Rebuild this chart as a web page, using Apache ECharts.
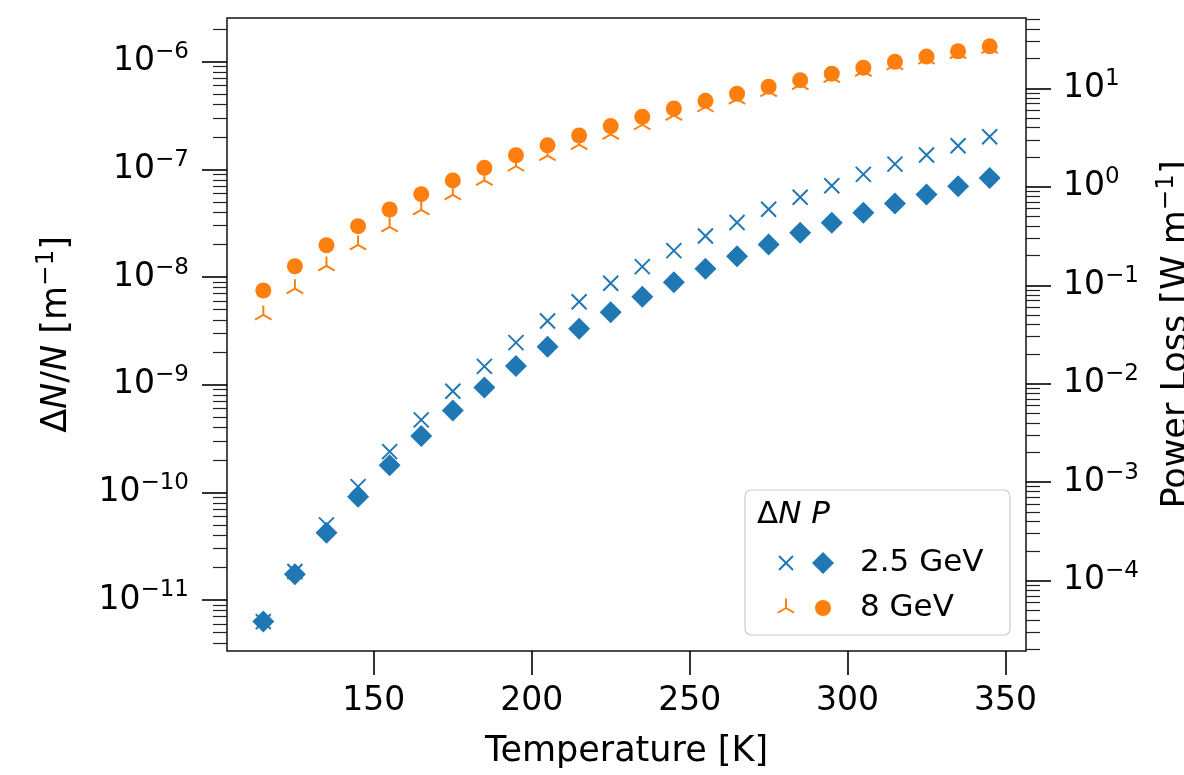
<!DOCTYPE html>
<html><head><meta charset="utf-8">
<script src="https://cdn.jsdelivr.net/npm/echarts@6/dist/echarts.min.js"></script>
<style>html,body{margin:0;padding:0;background:#fff}#chart{width:1184px;height:775px}</style>
</head><body><div id="chart"></div>
<script>
// ---- data ----
const temperatures = [115,125,135,145,155,165,175,185,195,205,215,225,235,245,255,265,275,285,295,305,315,325,335,345];
const dnN_2p5GeV = [6.3e-12,1.84e-11,4.99e-11,1.13e-10,2.39e-10,4.71e-10,8.7e-10,1.48e-9,2.46e-9,3.91e-9,5.9e-9,8.75e-9,1.25e-8,1.76e-8,2.41e-8,3.21e-8,4.26e-8,5.51e-8,7.06e-8,9.0e-8,1.12e-7,1.36e-7,1.66e-7,2.01e-7];
const power_2p5GeV = [3.84e-5,1.16e-4,3.07e-4,7.12e-4,1.49e-3,2.94e-3,5.36e-3,9.17e-3,0.0151,0.0238,0.0362,0.0533,0.0764,0.107,0.147,0.197,0.260,0.341,0.431,0.545,0.677,0.835,1.01,1.23];
const dnN_8GeV = [4.45e-9,7.8e-9,1.27e-8,1.99e-8,2.93e-8,4.2e-8,5.8e-8,7.9e-8,1.07e-7,1.34e-7,1.7e-7,2.12e-7,2.6e-7,3.17e-7,3.8e-7,4.5e-7,5.28e-7,6.14e-7,7.12e-7,8.13e-7,9.35e-7,1.06e-6,1.19e-6,1.33e-6];
const power_8GeV = [0.0885,0.156,0.255,0.398,0.588,0.841,1.16,1.56,2.09,2.64,3.32,4.14,5.14,6.24,7.47,8.81,10.4,12.1,14.1,16.2,18.6,21.0,23.8,26.7];
const xTicks = [150,200,250,300,350];
const leftMajorTicks = [1e-11,1e-10,1e-9,1e-8,1e-7,1e-6];
const rightMajorTicks = [1e-4,1e-3,1e-2,1e-1,1e0,1e1];
const legendLabels = ['2.5 GeV','8 GeV'];

// ---- helpers ----
function minorTicks(lo, hi) {
  const out = [];
  for (let k = Math.floor(Math.log10(lo)); k <= Math.ceil(Math.log10(hi)); k++) {
    for (let m = 2; m <= 9; m++) {
      const v = m * Math.pow(10, k);
      if (v >= lo && v <= hi) out.push(v);
    }
  }
  return out;
}
const FONT = 'DejaVu Sans';
const BLUE = '#1f77b4', ORANGE = '#ff7f0e';
const X_MIN = 103.5, X_MAX = 356.5;
const L_MIN = 3.36e-12, L_MAX = 2.55e-6;
const R_MIN = 1.93e-5, R_MAX = 51.8;

function powLabel(v) {
  const e = Math.round(Math.log10(v));
  return '{b|10}{s|' + (e < 0 ? '\u2212' + (-e) : String(e)) + '}';
}
const powRich = {
  b: {fontFamily: FONT, fontSize: 33, color: '#000'},
  s: {fontFamily: FONT, fontSize: 23, color: '#000', padding: [0, 0, 19, 0]}
};
const nameRich = {
  t: {fontFamily: FONT, fontSize: 35, color: '#000'},
  i: {fontFamily: FONT, fontSize: 35, color: '#000', fontStyle: 'italic'},
  s: {fontFamily: FONT, fontSize: 24.5, color: '#000', padding: [0, 0, 20, 0]}
};
const legendRich = {
  t: {fontFamily: FONT, fontSize: 31, color: '#000'},
  i: {fontFamily: FONT, fontSize: 31, color: '#000', fontStyle: 'italic'}
};
const majorTickStyle = {color: '#000', width: 1.6};
const minorTickStyle = {color: '#222', width: 1.2};

const crossPath = 'path://M-1,-1L1,1M1,-1L-1,1';
const triPath = 'path://M-1,-1M1,1M0,0L0,-1M0,0L-0.866,0.5M0,0L0.866,0.5';

function zip(xs, ys) { return xs.map((x, i) => [x, ys[i]]); }

const chart = echarts.init(document.getElementById('chart'), null, {renderer: 'canvas'});

// legend pieces (layout only)
const LG = {x: 745, y: 490, w: 265, h: 145};
const row1 = 563, row2 = 608, mx1 = 786, mx2 = 823, tx = 860;
const lineSt = c => ({stroke: c, lineWidth: 2});
const legendGraphic = [
  {type: 'rect', z: 100, shape: {x: LG.x, y: LG.y, width: LG.w, height: LG.h, r: 6},
   style: {fill: 'rgba(255,255,255,0.8)', stroke: '#cccccc', lineWidth: 1.2}},
  {type: 'text', z: 101, x: 757, y: 515, style: {
    text: '{t|\u0394}{i|N}{t| }{i|P}', verticalAlign: 'middle', rich: legendRich}},
  // cross
  {type: 'line', z: 101, shape: {x1: mx1 - 7, y1: row1 - 7, x2: mx1 + 7, y2: row1 + 7}, style: lineSt(BLUE)},
  {type: 'line', z: 101, shape: {x1: mx1 + 7, y1: row1 - 7, x2: mx1 - 7, y2: row1 + 7}, style: lineSt(BLUE)},
  {type: 'polygon', z: 101, shape: {points: [[mx2, row1 - 11], [mx2 + 11, row1], [mx2, row1 + 11], [mx2 - 11, row1]]},
   style: {fill: BLUE}},
  // tri
  {type: 'line', z: 101, shape: {x1: mx1, y1: row2, x2: mx1, y2: row2 - 9.5}, style: lineSt(ORANGE)},
  {type: 'line', z: 101, shape: {x1: mx1, y1: row2, x2: mx1 - 8.2, y2: row2 + 4.75}, style: lineSt(ORANGE)},
  {type: 'line', z: 101, shape: {x1: mx1, y1: row2, x2: mx1 + 8.2, y2: row2 + 4.75}, style: lineSt(ORANGE)},
  {type: 'circle', z: 101, shape: {cx: mx2, cy: row2, r: 8}, style: {fill: ORANGE}},
  {type: 'text', z: 101, x: tx, y: row1, style: {text: legendLabels[0], fontFamily: FONT, fontSize: 31, fill: '#000', verticalAlign: 'middle'}},
  {type: 'text', z: 101, x: tx, y: row2, style: {text: legendLabels[1], fontFamily: FONT, fontSize: 31, fill: '#000', verticalAlign: 'middle'}}
];

const option = {
  animation: false,
  backgroundColor: '#fff',
  grid: {left: 227, top: 18, right: 158, bottom: 124, show: true, borderColor: '#111', borderWidth: 1.5,
         containLabel: false, outerBoundsMode: 'none'},
  xAxis: {
    type: 'value', min: X_MIN, max: X_MAX,
    axisLine: {show: false}, splitLine: {show: false},
    axisTick: {show: true, customValues: xTicks, length: 24, lineStyle: majorTickStyle},
    axisLabel: {customValues: xTicks, fontFamily: FONT, fontSize: 33, color: '#000', margin: 34,
      formatter: v => String(v)},
    name: 'Temperature [K]', nameLocation: 'middle', nameGap: 83,
    nameTextStyle: {fontFamily: FONT, fontSize: 35, color: '#000'}
  },
  yAxis: [
    {type: 'log', position: 'left', min: L_MIN, max: L_MAX,
     axisLine: {show: false}, splitLine: {show: false}, minorTick: {show: false},
     axisTick: {show: true, customValues: leftMajorTicks, length: 25, lineStyle: majorTickStyle},
     axisLabel: {customValues: leftMajorTicks, margin: 38, formatter: powLabel, rich: powRich},
     name: '{t|\u0394}{i|N}{t|/}{i|N}{t| [m}{s|\u22121}{t|]}', nameLocation: 'middle', nameGap: 148,
     nameTextStyle: {rich: nameRich}},
    {type: 'log', position: 'right', min: R_MIN, max: R_MAX,
     axisLine: {show: false}, splitLine: {show: false}, minorTick: {show: false},
     axisTick: {show: true, customValues: rightMajorTicks, length: 25, lineStyle: majorTickStyle},
     axisLabel: {customValues: rightMajorTicks, margin: 37, formatter: powLabel, rich: powRich},
     name: '{t|Power Loss [W m}{s|\u22121}{t|]}', nameLocation: 'middle', nameGap: 128,
     nameTextStyle: {rich: nameRich}},
    {type: 'log', position: 'left', min: L_MIN, max: L_MAX,
     axisLine: {show: false}, splitLine: {show: false},
     axisTick: {show: true, customValues: minorTicks(L_MIN, L_MAX), length: 14, lineStyle: minorTickStyle},
     axisLabel: {show: false}},
    {type: 'log', position: 'right', min: R_MIN, max: R_MAX,
     axisLine: {show: false}, splitLine: {show: false},
     axisTick: {show: true, customValues: minorTicks(R_MIN, R_MAX), length: 14, lineStyle: minorTickStyle},
     axisLabel: {show: false}}
  ],
  series: [
    {name: '\u0394N/N 2.5 GeV', type: 'scatter', yAxisIndex: 0, symbol: crossPath, symbolSize: 15,
     itemStyle: {color: 'rgba(0,0,0,0)', borderColor: BLUE, borderWidth: 2, opacity: 1},
     data: zip(temperatures, dnN_2p5GeV), z: 2},
    {name: '\u0394N/N 8 GeV', type: 'scatter', yAxisIndex: 0, symbol: triPath, symbolSize: 19,
     itemStyle: {color: 'rgba(0,0,0,0)', borderColor: ORANGE, borderWidth: 2, opacity: 1},
     data: zip(temperatures, dnN_8GeV), z: 2},
    {name: 'P 2.5 GeV', type: 'scatter', yAxisIndex: 1, symbol: 'diamond', symbolSize: 22,
     itemStyle: {color: BLUE, opacity: 1}, data: zip(temperatures, power_2p5GeV), z: 3},
    {name: 'P 8 GeV', type: 'scatter', yAxisIndex: 1, symbol: 'circle', symbolSize: 16,
     itemStyle: {color: ORANGE, opacity: 1}, data: zip(temperatures, power_8GeV), z: 3}
  ],
  graphic: legendGraphic
};
chart.setOption(option);
</script></body></html>
